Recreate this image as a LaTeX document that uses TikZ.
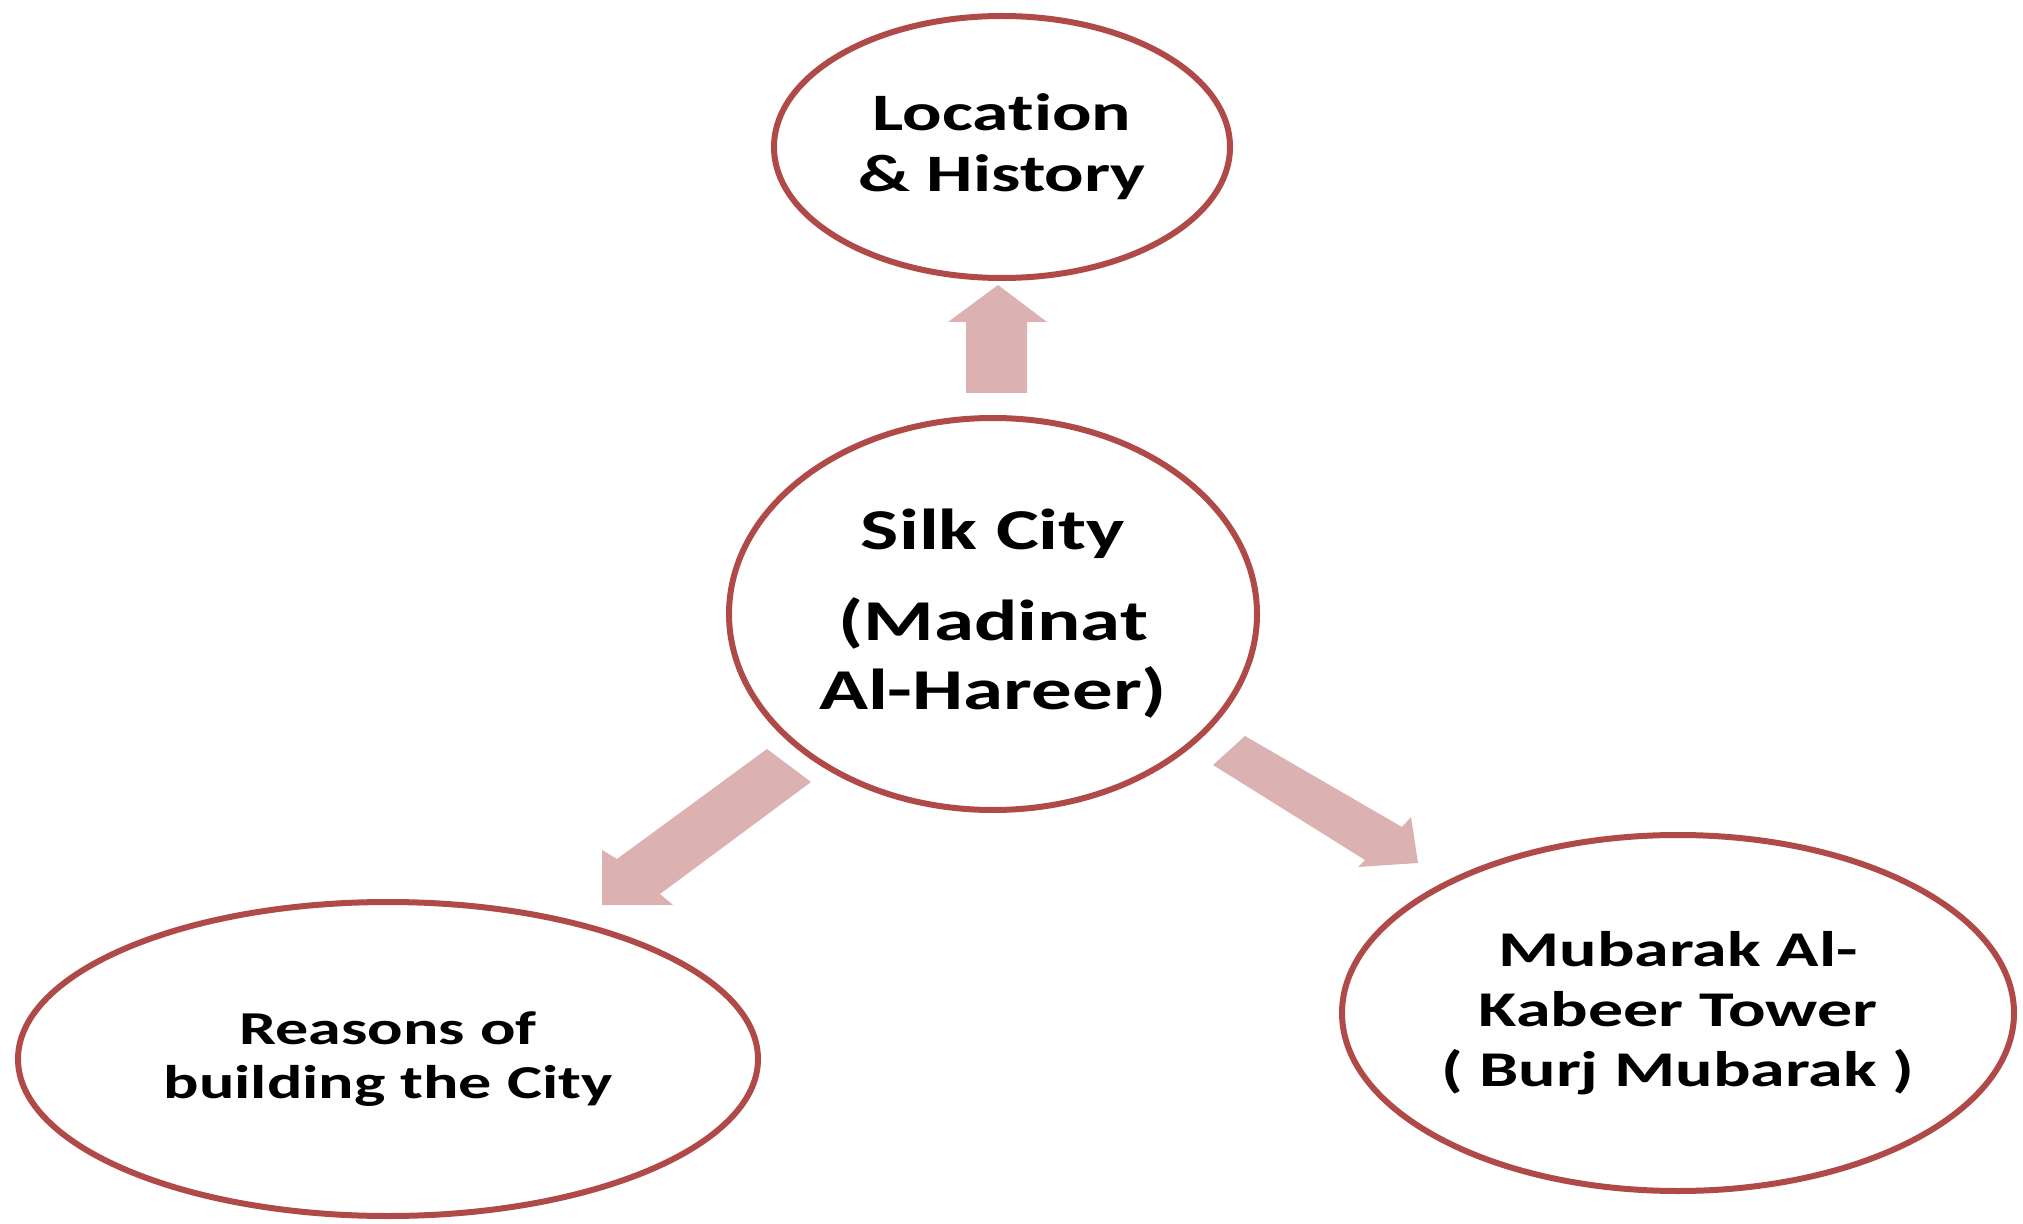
\documentclass[tikz,border=0pt]{standalone}
\usepackage{fontspec}
\setmainfont{Carlito}
\newfontfamily\widefont{Carlito}[FakeStretch=1.4, Ligatures={NoCommon}]
\usetikzlibrary{shapes.geometric}

\definecolor{ringred}{RGB}{176,74,72}
\definecolor{arrowpink}{RGB}{220,177,177}

\tikzset{
  topic/.style={ellipse, draw=ringred, line width=3pt, fill=white,
    align=center, inner sep=0pt, font=\widefont\bfseries},
  blockarrow/.style={fill=arrowpink, draw=none}
}

\begin{document}
\begin{tikzpicture}[x=0.5pt, y=-0.5pt]
  \useasboundingbox (0,0) rectangle (2023,1224);

  % topics around the city
  \node[topic, minimum width=228pt, minimum height=131pt,
    font=\widefont\bfseries\fontsize{26.3}{30.5}\selectfont]
    (location) at (1002,147) {Location\\\& History};
  \node[topic, minimum width=264pt, minimum height=196pt,
    font=\widefont\bfseries\fontsize{28.9}{34.5}\selectfont]
    (city) at (993,614) {Silk City\\[11pt](Madinat\\Al-Hareer)};
  \node[topic, minimum width=370pt, minimum height=157pt,
    font=\widefont\bfseries\fontsize{23.6}{27}\selectfont]
    (reasons) at (388,1059) {Reasons of\\building the City};
  \node[topic, minimum width=336pt, minimum height=178pt,
    font=\widefont\bfseries\fontsize{25}{30}\selectfont]
    (tower) at (1678,1013) {Mubarak Al-\\Kabeer Tower\\( Burj Mubarak )};

  % block arrows out of the centre
  \fill[blockarrow] (966,393) -- (966,322) -- (948,322) -- (998,285)
    -- (1047,322) -- (1027,322) -- (1027,393) -- cycle;
  \fill[blockarrow] (767,749) -- (811,782) -- (660,894) -- (673,905)
    -- (602,905) -- (602,850) -- (617,859) -- cycle;
  \fill[blockarrow] (1245,736) -- (1402,827) -- (1411,817) -- (1418,863)
    -- (1358,867) -- (1365,860) -- (1213,765) -- cycle;
\end{tikzpicture}
\end{document}
